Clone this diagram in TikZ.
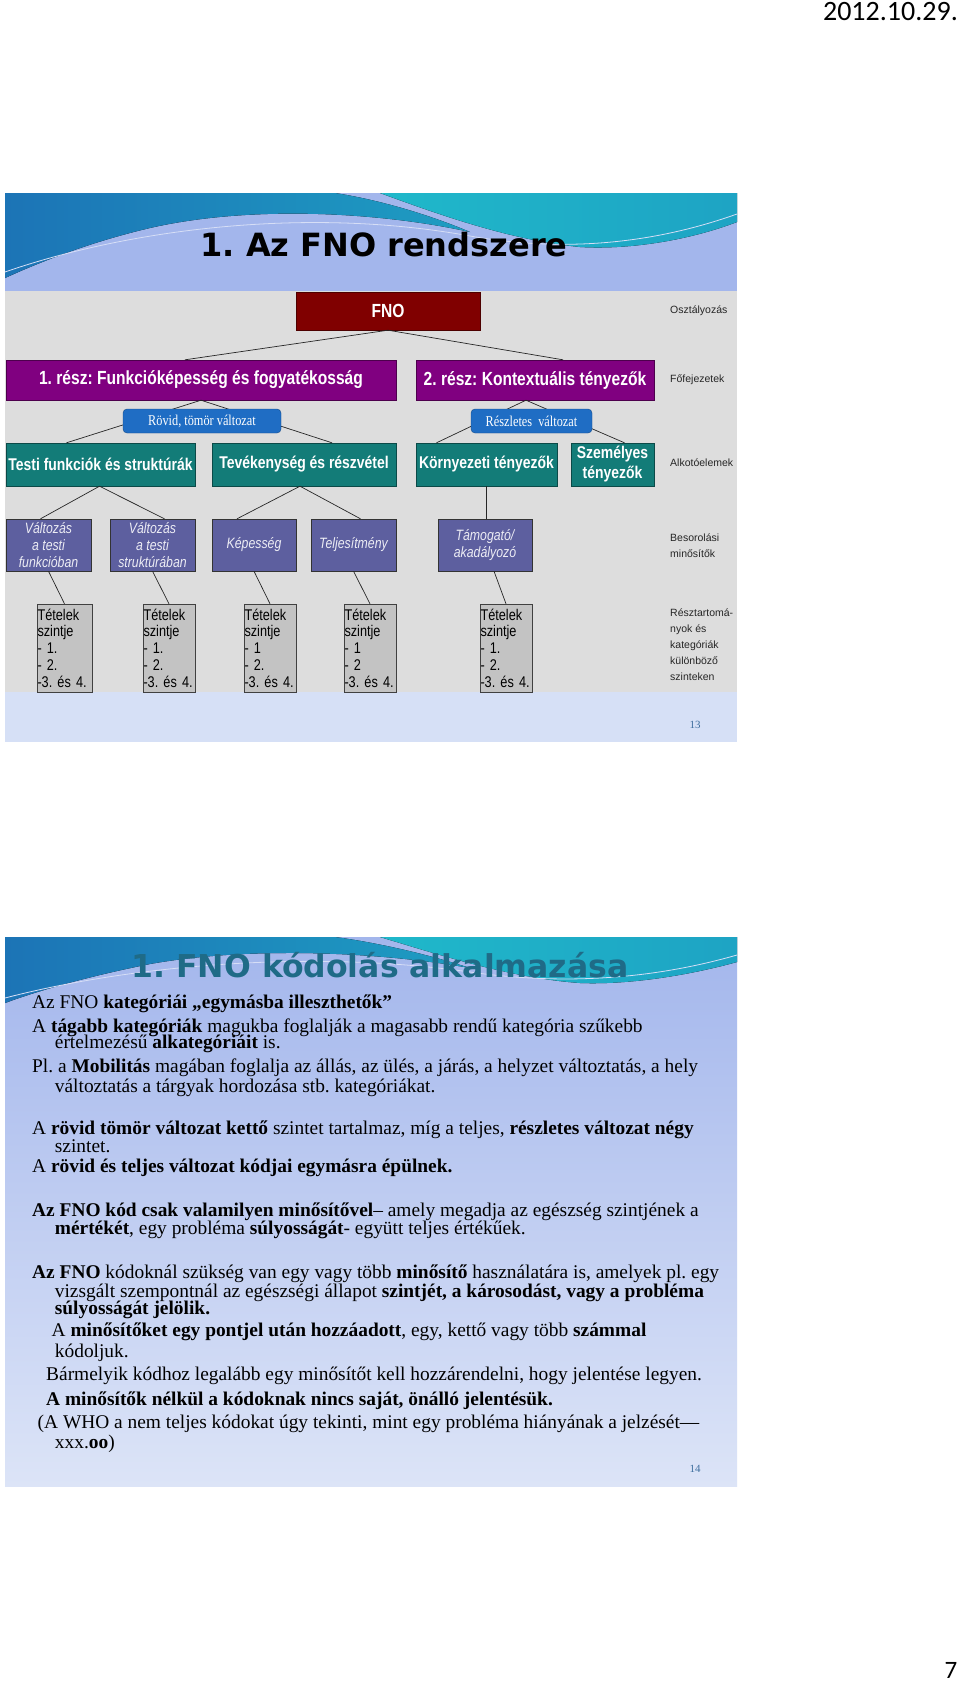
\documentclass[tikz,border=0pt]{standalone}
\usepackage{fontspec}
\setmainfont{Liberation Serif}
\newfontfamily\headfont{DejaVu Sans}
\newfontfamily\boxfont[FakeStretch=0.82]{Liberation Sans}
\newfontfamily\notefont{Liberation Sans}
\newfontfamily\tagfont[FakeStretch=0.82]{Liberation Serif}
\newfontfamily\datefont{Carlito}
\usetikzlibrary{positioning, calc}

\definecolor{fnored}{HTML}{800000}
\definecolor{partpurple}{HTML}{800080}
\definecolor{tagblue}{HTML}{1F6DC4}
\definecolor{compteal}{HTML}{137C78}
\definecolor{qualslate}{HTML}{5D5F9F}
\definecolor{itemgray}{HTML}{C3C3C3}
\definecolor{diagbg}{HTML}{DDDDDD}
\definecolor{headlight}{HTML}{A3B6EC}
\definecolor{bodylight}{HTML}{DCE4F7}
\definecolor{footlight}{HTML}{D6E0F6}
\definecolor{wavedark}{HTML}{1C74B6}
\definecolor{waveteal}{HTML}{1FB8CA}
\definecolor{titleteal}{HTML}{1F6B87}
\definecolor{pagenum}{HTML}{3E6E9E}

\tikzset{
    fnobox/.style = {draw=fnored!60!black, fill=fnored, text=white, inner sep=0pt, font=\boxfont\bfseries\fontsize{19}{22}\selectfont},
    partbox/.style = {draw=partpurple!60!black, fill=partpurple, text=white, inner sep=0pt, minimum height=40pt, font=\boxfont\bfseries\fontsize{19}{22}\selectfont},
    tagbox/.style = {draw=tagblue!70!black, fill=tagblue, rounded corners=4pt, text=white, inner sep=0pt, minimum height=24pt, font=\tagfont\fontsize{15}{17}\selectfont},
    compbox/.style = {draw=compteal!60!black, fill=compteal, text=white, inner sep=0pt, minimum height=43pt, align=center, font=\boxfont\bfseries\fontsize{17}{20}\selectfont},
    qualbox/.style = {draw=black!80, fill=qualslate, text=white!88!qualslate, inner sep=0pt, minimum height=52pt, align=center, font=\boxfont\itshape\fontsize{15}{17}\selectfont},
    itembox/.style = {draw=black!75, fill=itemgray, text=black, inner xsep=0.5pt, inner ysep=0pt, minimum height=88pt, align=left, font=\boxfont\fontsize{15.5}{16.7}\selectfont},
    sidenote/.style = {anchor=west, inner sep=0pt, align=left, text=black!85, font=\notefont\fontsize{10.5}{16}\selectfont},
    link/.style = {draw=black!85, line width=0.7pt},
    bodyline/.style = {anchor=mid west, inner sep=0pt, font=\fontsize{19.4}{21}\selectfont},
    pageno/.style = {inner sep=0pt, text=pagenum, font=\fontsize{11}{13}\selectfont}
}

\begin{document}
\frenchspacing
\begin{tikzpicture}[x=1pt, y=-1pt]
    \useasboundingbox (0,0) rectangle (960,1681);
    \fill[white] (0,0) rectangle (960,1681);

    % page corner texts
    \node[anchor=east, inner sep=0pt, font=\datefont\fontsize{28}{30}\selectfont] (date) at (958,12) {2012.10.29.};
    \node[inner sep=0pt, font=\datefont\fontsize{25}{28}\selectfont] (sheet) at (951,1670) {7};

    % ---- slide 13 ----
    \fill[headlight] (5,193) rectangle (737,291);
    \fill[left color=wavedark, right color=waveteal!60!wavedark] (5,193) -- (335,193) .. controls (380,200) and (430,215) .. (470,232) .. controls (380,212) and (250,205) .. (150,228) .. controls (90,242) and (40,262) .. (5,278) -- cycle;
    \fill[left color=waveteal, right color=waveteal!70!wavedark] (380,193) -- (737,193) -- (737,222) .. controls (690,240) and (630,250) .. (580,247) .. controls (510,240) and (440,215) .. (380,193) -- cycle;
    \draw[white!55!headlight, line width=0.8pt] (5,272) .. controls (120,232) and (300,205) .. (470,236) .. controls (560,252) and (650,245) .. (737,214);
    \fill[diagbg] (5,291) rectangle (737,692);
    \fill[footlight] (5,692) rectangle (737,742);
    \node[inner sep=0pt, font=\headfont\bfseries\fontsize{32}{36}\selectfont] (title13) at (384,245) {1. Az FNO rendszere};

    \node[fnobox, minimum width=184pt, minimum height=38pt] (fno) at (388,311) {FNO};
    \node[partbox, minimum width=390pt] (part1) at (201,380) {1. rész: Funkcióképesség és fogyatékosság};
    \node[partbox, minimum width=238pt] (part2) at (535,380) {2. rész: Kontextuális tényezők};

    \node[compbox, minimum width=189pt] (body) at (100.5,464.5) {Testi funkciók és struktúrák};
    \node[compbox, minimum width=184pt] (activity) at (304,464.5) {Tevékenység és részvétel};
    \node[compbox, minimum width=141pt] (environ) at (486.5,464.5) {Környezeti tényezők};
    \node[compbox, minimum width=83pt] (personal) at (612.5,464.5) {Személyes\\tényezők};

    \node[qualbox, minimum width=85pt] (qfunc) at (48.5,545) {Változás\\a testi\\funkcióban};
    \node[qualbox, minimum width=85pt] (qstruct) at (152.5,545) {Változás\\a testi\\struktúrában};
    \node[qualbox, minimum width=84pt] (qcap) at (254,545) {Képesség};
    \node[qualbox, minimum width=85pt] (qperf) at (353.5,545) {Teljesítmény};
    \node[qualbox, minimum width=94pt] (qenv) at (485,545) {Támogató/\\akadályozó};

    \node[itembox, text width=54pt] (ifunc) at (64.5,648) {Tételek\\szintje\\- 1.\\- 2.\\-3. és 4.};
    \node[itembox, text width=51pt] (istruct) at (169,648) {Tételek\\szintje\\- 1.\\- 2.\\-3. és 4.};
    \node[itembox, text width=51pt] (icap) at (270,648) {Tételek\\szintje\\- 1\\- 2.\\-3. és 4.};
    \node[itembox, text width=51pt] (iperf) at (370,648) {Tételek\\szintje\\- 1\\- 2\\-3. és 4.};
    \node[itembox, text width=51pt] (ienv) at (506,648) {Tételek\\szintje\\- 1.\\- 2.\\-3. és 4.};

    \draw[link] (fno.south) -- ([xshift=-16pt]part1.north);
    \draw[link] (fno.south) -- ([xshift=28pt]part2.north);
    \draw[link] (part1.south) -- ([xshift=-34pt]body.north);
    \draw[link] (part1.south) -- ([xshift=28pt]activity.north);
    \draw[link] ([xshift=-9pt]part2.south) -- ([xshift=-50pt]environ.north);
    \draw[link] ([xshift=-9pt]part2.south) -- ([xshift=12pt]personal.north);
    \draw[link] ([xshift=-1pt]body.south) -- ([xshift=-8pt]qfunc.north);
    \draw[link] ([xshift=-1pt]body.south) -- ([xshift=12pt]qstruct.north);
    \draw[link] ([xshift=-4pt]activity.south) -- ([xshift=-17pt]qcap.north);
    \draw[link] ([xshift=-4pt]activity.south) -- ([xshift=7pt]qperf.north);
    \draw[link] (environ.south) -- (environ.south |- qenv.north);
    \draw[link] (qfunc.south) -- (ifunc.north);
    \draw[link] (qstruct.south) -- (istruct.north);
    \draw[link] (qcap.south) -- (icap.north);
    \draw[link] (qperf.south) -- (iperf.north);
    \draw[link] ([xshift=9pt]qenv.south) -- (ienv.north);

    \node[tagbox, minimum width=158pt] (brief) at (202,421) {Rövid, tömör változat};
    \node[tagbox, minimum width=121pt] (detailed) at (531.5,421) {Részletes\ \ változat};

    \node[sidenote] (nclass) at (670,311) {Osztályozás};
    \node[sidenote] (nchapter) at (670,380) {Főfejezetek};
    \node[sidenote] (ncomp) at (670,463) {Alkotóelemek};
    \node[sidenote] (nqual) at (670,546) {Besorolási\\minősítők};
    \node[sidenote] (nlevel) at (670,645) {Résztartomá-\\nyok és\\kategóriák\\különböző\\szinteken};

    \node[pageno] (p13) at (695,725) {13};

    % ---- slide 14 ----
    \fill[top color=headlight, bottom color=bodylight] (5,937) rectangle (737,1486);
    \fill[left color=wavedark, right color=waveteal!60!wavedark] (5,937) -- (335,937) .. controls (380,943) and (430,955) .. (470,968) .. controls (380,952) and (250,946) .. (150,964) .. controls (90,976) and (40,990) .. (5,1003) -- cycle;
    \fill[left color=waveteal, right color=waveteal!70!wavedark] (380,937) -- (737,937) -- (737,962) .. controls (690,975) and (630,985) .. (580,983) .. controls (510,978) and (440,955) .. (380,937) -- cycle;
    \draw[white!55!headlight, line width=0.8pt] (5,998) .. controls (120,968) and (300,948) .. (470,972) .. controls (560,985) and (650,980) .. (737,955);
    \node[inner sep=0pt, text=titleteal, font=\headfont\bfseries\fontsize{31.5}{34}\selectfont] (title14) at (380,965) {1. FNO kódolás alkalmazása};

    \node[bodyline] (l1) at (32,1006) {Az FNO \textbf{kategóriái „egymásba illeszthetők”}};
    \node[bodyline] (l2) at (32,1030) {A \textbf{tágabb kategóriák} magukba foglalják a magasabb rendű kategória szűkebb};
    \node[bodyline] (l3) at (54.7,1046) {értelmezésű \textbf{alkategóriáit} is.};
    \node[bodyline] (l4) at (32,1070.5) {Pl. a \textbf{Mobilitás} magában foglalja az állás, az ülés, a járás, a helyzet változtatás, a hely};
    \node[bodyline] (l5) at (54.7,1090) {változtatás a tárgyak hordozása stb. kategóriákat.};
    \node[bodyline] (l6) at (32,1132) {A \textbf{rövid tömör változat kettő} szintet tartalmaz, míg a teljes, \textbf{részletes változat négy}};
    \node[bodyline] (l7) at (54.7,1150) {szintet.};
    \node[bodyline] (l8) at (32,1170.5) {A \textbf{rövid és teljes változat kódjai egymásra épülnek.}};
    \node[bodyline] (l9) at (32,1214.5) {\textbf{Az FNO kód csak valamilyen minősítővel}– amely megadja az egészség szintjének a};
    \node[bodyline] (l10) at (54.7,1232.5) {\textbf{mértékét}, egy probléma \textbf{súlyosságát}- együtt teljes értékűek.};
    \node[bodyline] (l11) at (32,1276.5) {\textbf{Az FNO} kódoknál szükség van egy vagy több \textbf{minősítő} használatára is, amelyek pl. egy};
    \node[bodyline] (l12) at (54.7,1295) {vizsgált szempontnál az egészségi állapot \textbf{szintjét, a károsodást, vagy a probléma}};
    \node[bodyline] (l13) at (54.7,1312) {\textbf{súlyosságát jelölik.}};
    \node[bodyline] (l14) at (51.5,1334.5) {A \textbf{minősítőket egy pontjel után hozzáadott}, egy, kettő vagy több \textbf{számmal}};
    \node[bodyline] (l15) at (54.7,1355) {kódoljuk.};
    \node[bodyline] (l16) at (46,1378.5) {Bármelyik kódhoz legalább egy minősítőt kell hozzárendelni, hogy jelentése legyen.};
    \node[bodyline] (l17) at (46,1403) {\textbf{A minősítők nélkül a kódoknak nincs saját, önálló jelentésük.}};
    \node[bodyline] (l18) at (37.5,1426) {(A WHO a nem teljes kódokat úgy tekinti, mint egy probléma hiányának a jelzését—};
    \node[bodyline] (l19) at (54.7,1446) {xxx.\textbf{oo})};

    \node[pageno] (p14) at (695,1469) {14};
\end{tikzpicture}
\end{document}
